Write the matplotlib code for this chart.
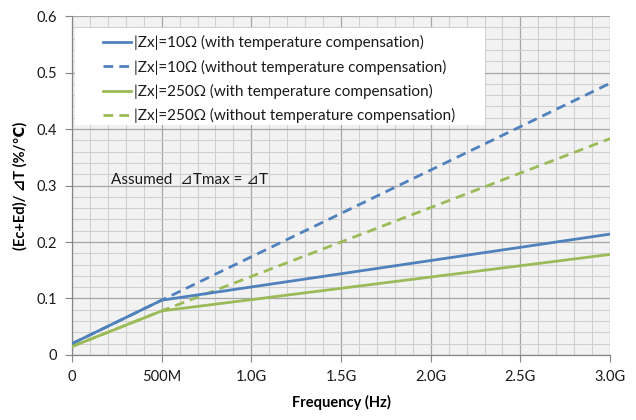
import matplotlib
matplotlib.use("Agg")
import matplotlib.pyplot as plt
from matplotlib.patches import Rectangle
from matplotlib.ticker import MultipleLocator

plt.rcParams['font.family'] = ['Lato', 'DejaVu Sans']

freq_ghz = [0.0, 0.5, 3.0]
zx10_with = [0.020, 0.097, 0.214]
zx10_without = [0.020, 0.097, 0.481]
zx250_with = [0.015, 0.078, 0.178]
zx250_without = [0.015, 0.078, 0.383]

labels = [
    "|Zx|=10\u03a9 (with temperature compensation)",
    "|Zx|=10\u03a9 (without temperature compensation)",
    "|Zx|=250\u03a9 (with temperature compensation)",
    "|Zx|=250\u03a9 (without temperature compensation)",
]
xtick_vals = [0, 0.5, 1.0, 1.5, 2.0, 2.5, 3.0]
xtick_labels = ["0", "500M", "1.0G", "1.5G", "2.0G", "2.5G", "3.0G"]
ytick_vals = [0, 0.1, 0.2, 0.3, 0.4, 0.5, 0.6]
ytick_labels = ["0", "0.1", "0.2", "0.3", "0.4", "0.5", "0.6"]

blue = "#4f81bd"
green = "#9bbb59"

fig = plt.figure(figsize=(6.36, 4.2), dpi=100)
ax = fig.add_axes([0.1132, 0.1548, 0.846, 0.807])
ax.set_facecolor("#f2f2f2")
ax.set_xlim(0, 3.0)
ax.set_ylim(0, 0.6)

ax.xaxis.set_minor_locator(MultipleLocator(0.1))
ax.yaxis.set_minor_locator(MultipleLocator(0.02))
ax.grid(which="major", color="#a6a6a6", linewidth=0.9)
ax.grid(which="minor", color="#d0d0d0", linewidth=0.8)
ax.set_axisbelow(True)

lw = 2.0
l1, = ax.plot(freq_ghz, zx10_without, color=blue, lw=lw, ls=(0, (3.5, 2.2)), zorder=3)
l2, = ax.plot(freq_ghz, zx250_without, color=green, lw=lw, ls=(0, (3.5, 2.2)), zorder=3)
l3, = ax.plot(freq_ghz, zx10_with, color=blue, lw=lw, zorder=4)
l4, = ax.plot(freq_ghz, zx250_with, color=green, lw=lw, zorder=4)

ax.set_xticks(xtick_vals)
ax.set_xticklabels(xtick_labels)
ax.set_yticks(ytick_vals)
ax.set_yticklabels(ytick_labels)
ax.tick_params(which="major", direction="out", length=5, color="#868686",
               labelsize=10.5, labelcolor="#1a1a1a", pad=6)
ax.tick_params(which="minor", length=0)

for s in ["top", "right"]:
    ax.spines[s].set_visible(False)
for s in ["left", "bottom"]:
    ax.spines[s].set_color("#868686")
    ax.spines[s].set_linewidth(0.9)

ax.set_xlabel("Frequency (Hz)", fontsize=10.5, fontweight="bold", labelpad=8)
ax.set_ylabel("(Ec+Ed)/ \u22bfT (%/\u2103)", fontsize=10.5, fontweight="bold", labelpad=6)

ax.text(0.073, 0.515, "Assumed  \u22bfTmax = \u22bfT", transform=ax.transAxes,
        fontsize=11, color="#1a1a1a", va="center", ha="left")

ax.add_patch(Rectangle((0.006, 0.678), 0.762, 0.287, transform=ax.transAxes,
                       facecolor="white", edgecolor="none", zorder=5))
leg = ax.legend([l3, l1, l4, l2], labels, loc="upper left",
                bbox_to_anchor=(0.058, 0.943), frameon=False, fontsize=11,
                handlelength=1.8, handletextpad=0.2, labelspacing=0.6,
                borderaxespad=0, borderpad=0)
leg.set_zorder(6)
for t in leg.get_texts():
    t.set_color("#1a1a1a")

fig.savefig("out.png", dpi=100)
